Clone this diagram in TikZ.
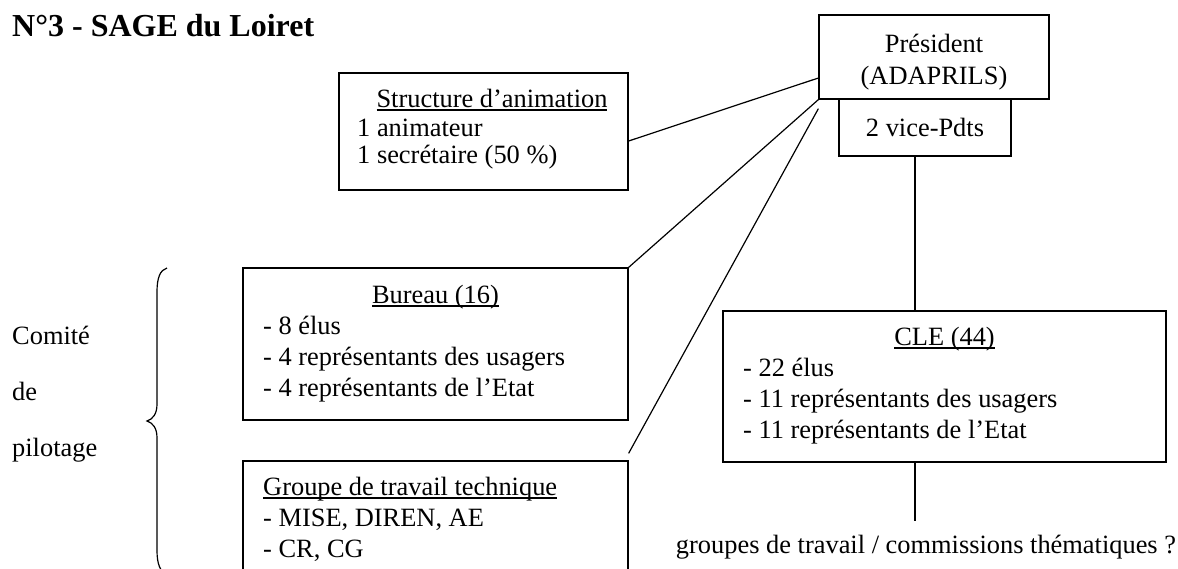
\documentclass[tikz,border=0pt]{standalone}
\usepackage{fontspec}
\setmainfont{Liberation Serif}
% word-processor style underline: fixed offset below the baseline
\newcommand\uln[1]{\setbox0\hbox{#1}\rlap{\rule[-3.8pt]{\wd0}{1.6pt}}\box0}
\begin{document}
\begin{tikzpicture}[x=1pt,y=-1pt,
  box/.style={draw, line width=1.2pt, inner sep=0pt, rectangle},
  txt/.style={inner sep=0pt, font=\fontsize{26.4}{31}\selectfont},
  ttl/.style={inner sep=0pt, font=\fontsize{32}{36}\selectfont\bfseries},
  link/.style={line width=1.2pt}]
\useasboundingbox (0,0) rectangle (1178,568);
\clip (0,0) rectangle (1178,568);

% title
\node[ttl, anchor=base west] (title) at (12,36) {N°3 - SAGE du Loiret};

% boxes
\node[box, minimum width=230pt, minimum height=84pt]  (pres) at (934,57) {};
\node[box, minimum width=172pt, minimum height=57pt]  (vice) at (925,127.5) {};
\node[box, minimum width=289pt, minimum height=117pt] (stru) at (483.5,131.5) {};
\node[box, minimum width=385pt, minimum height=152pt] (bur)  at (435.5,344) {};
\node[box, minimum width=385pt, minimum height=115pt] (grp)  at (435.5,518.5) {};
\node[box, minimum width=443pt, minimum height=151pt] (cle)  at (944.5,386.5) {};

% président
\node[txt, anchor=base] (pres-a) at (934,52) {Président};
\node[txt, anchor=base] (pres-b) at (934,84) {(ADAPRILS)};
\node[txt, anchor=base] (vice-a) at (925,136) {2 vice-Pdts};

% structure d'animation
\node[txt, anchor=base] (stru-t) at (492,107) {\uln{Structure d’animation}};
\node[txt, anchor=base west] (stru-a) at (357,136) {1 animateur};
\node[txt, anchor=base west] (stru-b) at (357,163) {1 secrétaire (50 \%)};

% bureau
\node[txt, anchor=base] (bur-t) at (435.5,303) {\uln{Bureau (16)}};
\node[txt, anchor=base west] (bur-a) at (263,334) {- 8 élus};
\node[txt, anchor=base west] (bur-b) at (263,365) {- 4 représentants des usagers};
\node[txt, anchor=base west] (bur-c) at (263,396) {- 4 représentants de l’Etat};

% groupe de travail technique
\node[txt, anchor=base west] (grp-t) at (263,495) {\uln{Groupe de travail technique}};
\node[txt, anchor=base west] (grp-a) at (263,526) {- MISE, DIREN, AE};
\node[txt, anchor=base west] (grp-b) at (263,557) {- CR, CG};

% CLE
\node[txt, anchor=base] (cle-t) at (944.5,345) {\uln{CLE (44)}};
\node[txt, anchor=base west] (cle-a) at (743,376) {- 22 élus};
\node[txt, anchor=base west] (cle-b) at (743,407) {- 11 représentants des usagers};
\node[txt, anchor=base west] (cle-c) at (743,438) {- 11 représentants de l’Etat};

% comité de pilotage
\node[txt, anchor=base west] (cp-a) at (12,344) {Comité};
\node[txt, anchor=base west] (cp-b) at (12,400) {de};
\node[txt, anchor=base west] (cp-c) at (12,456) {pilotage};

% groupes de travail
\coordinate (gt) at (915,521);
\node[txt, anchor=base] (gtl) at (926,553) {groupes de travail / commissions thématiques ?};

% connectors
\draw[link] ([yshift=-9.5pt]stru.east) -- ([yshift=-21pt]pres.west);
\draw[link] (bur.north east) -- (pres.south west);
\draw[link] ([yshift=7pt]grp.north east) -- ([yshift=-9pt]pres.south west);
\draw[link] ([xshift=-10pt]vice.south) -- ([xshift=-10pt]vice.south |- cle.north);
\draw[link] (cle.south -| gt) -- (gt);

% brace
\draw[link] (167,268) .. controls (160,270) and (157,278) .. (157,292)
  -- (157,404) .. controls (157,414) and (153,419) .. (147,421)
  .. controls (153,423) and (157,428) .. (157,438)
  -- (157,550) .. controls (157,564) and (160,572) .. (167,574);
\end{tikzpicture}
\end{document}
